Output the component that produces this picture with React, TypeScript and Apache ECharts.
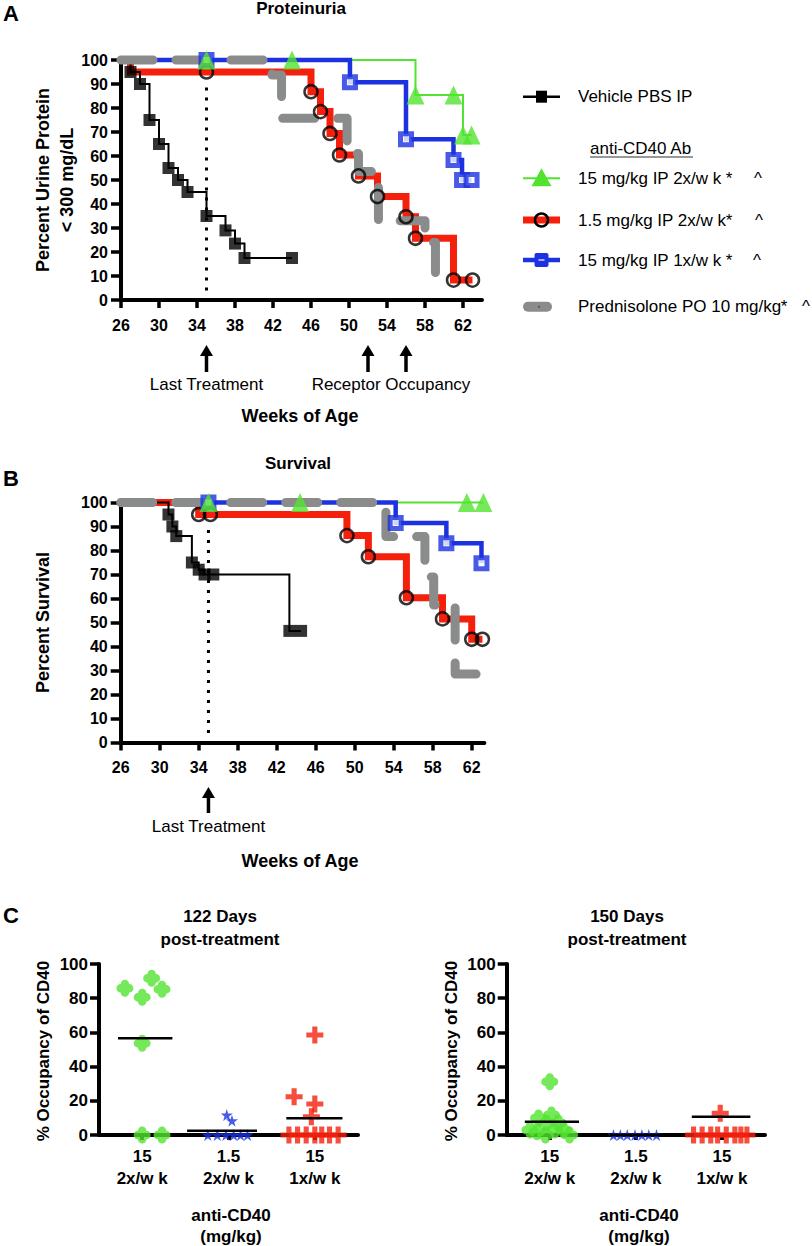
import React, { useEffect, useRef } from 'react';
import * as echarts from 'echarts';

const FONT = '"Liberation Sans", Arial, Helvetica, sans-serif';
const GREEN = '#52e330';
const RED = '#f4200c';
const BLUE = '#1c32e0';
const GRAY = '#8a8c8c';

// ---------------- Panel A : Proteinuria  ([week, percent, symbol shown]) ----------------
const weekTicks = [26, 30, 34, 38, 42, 46, 50, 54, 58, 62];
const protVehicle = [
  [26, 100, 0], [27, 95, 1], [28, 90, 1], [29, 75, 1], [30, 65, 1], [31, 55, 1], [32, 50, 1], [33, 45, 1],
  [35, 35, 1], [37, 29, 1], [38, 23.5, 1], [39, 17.5, 1], [44, 17.5, 1],
];
const protAb15x2 = [[26, 100, 0], [35, 100, 1], [44, 100, 1], [57, 85.4, 1], [61, 85.4, 1], [62, 68.7, 1], [62.9, 68.7, 1]];
const protAb1p5x2 = [
  [26, 100, 0], [27, 95, 0], [35, 95, 1], [46, 86.8, 1], [47, 78.5, 1], [48, 69.4, 1], [49, 60.4, 1],
  [51, 51.7, 1], [53, 43.1, 1], [56, 34.7, 1], [57, 25.7, 1], [61, 8.3, 1], [63, 8.3, 1],
];
const protAb15x1 = [[26, 100, 0], [35, 100, 1], [50.1, 90.7, 1], [56, 67, 1], [61, 58.3, 1], [61.9, 50, 1], [62.9, 50, 1]];
const protPred = [[26, 100], [41.9, 93.7], [42.9, 75.7], [49.8, 61], [51, 53.5], [53.1, 33], [58, 24], [59.1, 11], [60.5, 11]];

// ---------------- Panel B : Survival ----------------
const survVehicle = [
  [26, 100, 0], [30.9, 95, 1], [31.3, 90, 1], [31.7, 86, 1], [33.3, 75, 1], [34, 72, 1], [34.6, 70, 1],
  [35.5, 70, 1], [43.3, 46.5, 1], [44.5, 46.5, 1],
];
const survAb15x2 = [[26, 100, 0], [35, 100, 1], [44.4, 100, 1], [61.5, 100, 1], [63.2, 100, 1]];
const survAb1p5x2 = [
  [26, 100, 0], [34, 95, 1], [35.2, 95, 1], [49.2, 86.2, 1], [51.4, 77.4, 1], [55.3, 60.3, 1],
  [59, 51.5, 1], [62, 43, 1], [63.1, 43, 1],
];
const survAb15x1 = [[26, 100, 0], [35, 100, 1], [54.2, 91.5, 1], [59.4, 83, 1], [63, 74.7, 1]];
const survPred = [[26, 100], [53.2, 85.8], [57.2, 69], [58.1, 57.3], [60.3, 28.5], [63.1, 28.5]];

const lastTreatmentWeek = 35;
const receptorOccupancyWeeks = [52, 56];

// ---------------- Panel C : % occupancy of CD40 ----------------
const doseGroups = ['15\n2x/w k', '1.5\n2x/w k', '15\n1x/w k'];

const occ122High2x = [85.8, 80.5, 91.6, 85.2, 53.6, 0, 0];
const occ122High2xJit = [-0.2, 0, 0.11, 0.23, 0, 0, 0.23];
const occ122Low2x = [11.7, 8.4, 0, 0, 0, 0, 0, 0];
const occ122Low2xJit = [-0.02, 0.04, -0.24, -0.13, -0.03, 0.06, 0.14, 0.22];
const occ122High1x = [58.5, 22.4, 18.1, 10.7, 0, 0, 0, 0, 0, 0, 0];
const occ122High1xJit = [0, -0.24, 0, -0.04, -0.3, -0.2, -0.1, 0, 0.08, 0.17, 0.27];
const occ122Means = [56.6, 2.5, 9.8];
const occ122MeanSpan = [[-0.28, 0.35], [-0.48, 0.33], [-0.33, 0.32]];

const occ150High2x = [31.2, 10, 11.7, 2.9, 1.9, 0, 2.9, 2.9, 0, 6.8, 7];
const occ150High2xJit = [0, -0.13, 0.02, -0.23, -0.15, -0.05, 0.06, 0.16, 0.23, -0.04, 0.1];
const occ150Low2x = [0, 0, 0, 0, 0, 0, 0];
const occ150Low2xJit = [-0.26, -0.18, -0.1, -0.01, 0.07, 0.15, 0.24];
const occ150High1x = [12.7, 0, 0, 0, 0, 0, 0, 0, 0];
const occ150High1xJit = [-0.02, -0.33, -0.23, -0.13, -0.05, 0.05, 0.15, 0.22, 0.29];
const occ150Means = [7.8, 0, 10.7];
const occ150MeanSpan = [[-0.29, 0.34], [-0.3, 0.3], [-0.35, 0.33]];

const STAR = 'path://M50,0 L61,35 L98,35 L68,57 L79,91 L50,70 L21,91 L32,57 L2,35 L39,35 Z';
const PLUS = 'path://M35,0 H65 V35 H100 V65 H65 V100 H35 V65 H0 V35 H35 Z';
const CLOVER =
  'path://M25,25 a25,25 0 1,0 50,0 a25,25 0 1,0 -50,0 Z M25,75 a25,25 0 1,0 50,0 a25,25 0 1,0 -50,0 Z ' +
  'M0,50 a25,25 0 1,0 50,0 a25,25 0 1,0 -50,0 Z M50,50 a25,25 0 1,0 50,0 a25,25 0 1,0 -50,0 Z';

function curve(data: number[][], g: number, color: string, width: number, z: number, dashed = false) {
  return {
    type: 'line', xAxisIndex: g, yAxisIndex: g, step: 'end', data: data.map((d) => [d[0], d[1]]),
    symbol: 'none', showSymbol: false, clip: false, silent: true, z,
    lineStyle: dashed
      ? { color, width, type: [32, 23], cap: 'round', join: 'round' }
      : { color, width, join: 'miter', cap: 'butt' },
  };
}
function marks(data: number[][], g: number, symbol: string, symbolSize: any, itemStyle: any, z: number) {
  return {
    type: 'scatter', xAxisIndex: g, yAxisIndex: g, data: data.filter((d) => d[2] === 1).map((d) => [d[0], d[1]]),
    symbol, symbolSize, itemStyle, z, clip: false, silent: true,
  };
}
function dots(values: number[], jit: number[], cat: number, g: number, symbol: string, size: number, color: string) {
  return {
    type: 'scatter', xAxisIndex: g, yAxisIndex: g, data: values.map((v, i) => [cat + jit[i], v]),
    symbol, symbolSize: size, itemStyle: { color }, z: 4, clip: false, silent: true,
  };
}
function meanLine(mean: number, span: number[], cat: number, g: number) {
  return {
    type: 'line', xAxisIndex: g, yAxisIndex: g, data: [[cat + span[0], mean], [cat + span[1], mean]],
    symbol: 'none', clip: false, silent: true, z: 6, lineStyle: { color: '#000', width: 2.5 },
  };
}
function dotted(g: number, top: number) {
  return {
    type: 'line', xAxisIndex: g, yAxisIndex: g, data: [[lastTreatmentWeek, 4], [lastTreatmentWeek, top]],
    symbol: 'none', clip: false, silent: true, z: 1, lineStyle: { color: '#000', width: 3, type: [3, 7] },
  };
}

const axisLine = { show: true, onZero: false, lineStyle: { color: '#000', width: 4 } };
const lbl = { color: '#000', fontFamily: FONT, fontWeight: 'bold' };

function weekAxis(g: number, max: number) {
  return {
    gridIndex: g, type: 'value', min: 26, max,
    axisLine, splitLine: { show: false },
    axisTick: { show: true, length: 8, lineStyle: { color: '#000', width: 3.5 }, customValues: weekTicks },
    axisLabel: { ...lbl, fontSize: 16, margin: 17, customValues: weekTicks },
  };
}
function pctAxis(g: number) {
  return {
    gridIndex: g, type: 'value', min: 0, max: 100, interval: 10,
    axisLine, splitLine: { show: false },
    axisTick: { show: true, length: 10, lineStyle: { color: '#000', width: 3.5 } },
    axisLabel: { ...lbl, fontSize: 16, margin: 13 },
  };
}
function doseAxis(g: number) {
  return {
    gridIndex: g, type: 'value', min: -0.5, max: 2.5,
    axisLine, splitLine: { show: false },
    axisTick: { show: true, length: 5, lineStyle: { color: '#000', width: 4 }, customValues: [0, 1, 2] },
    axisLabel: {
      ...lbl, fontSize: 17, margin: 10, lineHeight: 22, customValues: [0, 1, 2],
      formatter: (v: number) => doseGroups[Math.round(v)] ?? '',
    },
  };
}
function occAxis(g: number) {
  return {
    gridIndex: g, type: 'value', min: 0, max: 100, interval: 20,
    axisLine, splitLine: { show: false },
    axisTick: { show: true, length: 9, lineStyle: { color: '#000', width: 3.5 } },
    axisLabel: { ...lbl, fontSize: 17, margin: 11 },
  };
}

function kmSeries(g: number, veh: number[][], hi2: number[][], lo2: number[][], hi1: number[][], pred: number[][], dotTop: number) {
  return [
    dotted(g, dotTop),
    curve(hi2, g, GREEN, 2, 2),
    curve(hi1, g, BLUE, 4.5, 3),
    curve(lo2, g, RED, 7, 4),
    curve(veh, g, '#000', 2, 5),
    curve(pred, g, GRAY, 9, 6, true),
    marks(veh, g, 'rect', 12, { color: '#000' }, 7),
    marks(lo2, g, 'circle', 13, { color: 'rgba(0,0,0,0)', borderColor: '#000', borderWidth: 2.5 }, 8),
    marks(hi1, g, 'rect', 11, { color: '#fff', borderColor: BLUE, borderWidth: 5 }, 9),
    marks(hi2, g, 'triangle', [18, 19], { color: GREEN }, 10),
  ];
}

function occSeries(g: number, hi2: number[], hi2j: number[], lo2: number[], lo2j: number[], hi1: number[], hi1j: number[], means: number[], spans: number[][]) {
  return [
    dots(hi2, hi2j, 0, g, CLOVER, 17, GREEN),
    dots(lo2, lo2j, 1, g, STAR, 12, BLUE),
    dots(hi1, hi1j, 2, g, PLUS, 17, RED),
    ...means.map((m, i) => meanLine(m, spans[i], i, g)),
  ];
}

function buildOption() {
  return {
    animation: false,
    backgroundColor: '#fff',
    grid: [
      { left: 121, top: 60, width: 361, height: 240 },
      { left: 120.7, top: 502.5, width: 363.7, height: 240 },
      { left: 99, top: 964, width: 259, height: 171 },
      { left: 506.7, top: 964, width: 258.3, height: 171 },
    ],
    xAxis: [weekAxis(0, 64), weekAxis(1, 63.3), doseAxis(2), doseAxis(3)],
    yAxis: [pctAxis(0), pctAxis(1), occAxis(2), occAxis(3)],
    series: [
      ...kmSeries(0, protVehicle, protAb15x2, protAb1p5x2, protAb15x1, protPred, 89),
      ...kmSeries(1, survVehicle, survAb15x2, survAb1p5x2, survAb15x1, survPred, 89),
      ...occSeries(2, occ122High2x, occ122High2xJit, occ122Low2x, occ122Low2xJit, occ122High1x, occ122High1xJit, occ122Means, occ122MeanSpan),
      ...occSeries(3, occ150High2x, occ150High2xJit, occ150Low2x, occ150Low2xJit, occ150High1x, occ150High1xJit, occ150Means, occ150MeanSpan),
    ],
  };
}

function txt(text: string, x: number, y: number, size: number, bold = true, extra: any = {}) {
  return {
    type: 'text', x, y, silent: true, ...extra,
    style: {
      text, fontSize: size, fontWeight: bold ? 'bold' : 'normal', fontFamily: FONT, fill: '#000',
      align: 'center', verticalAlign: 'middle', ...(extra.style || {}),
    },
  };
}
function arrow(x: number, tip: number, bottom: number) {
  return [
    { type: 'line', silent: true, shape: { x1: x, y1: tip + 8, x2: x, y2: bottom }, style: { stroke: '#000', lineWidth: 3.5 } },
    { type: 'polygon', silent: true, shape: { points: [[x, tip], [x - 6.5, tip + 11], [x + 6.5, tip + 11]] }, style: { fill: '#000' } },
  ];
}
function leftTxt(text: string, x: number, y: number, size = 17) {
  return {
    type: 'text', x, y, silent: true,
    style: { text, fontSize: size, fontFamily: FONT, fill: '#000', align: 'left', verticalAlign: 'middle' },
  };
}

function buildGraphics(chart: any) {
  const xa = (g: number, w: number) => chart.convertToPixel({ xAxisIndex: g }, w);
  const aLT = xa(0, lastTreatmentWeek);
  const aR1 = xa(0, receptorOccupancyWeeks[0]);
  const aR2 = xa(0, receptorOccupancyWeeks[1]);
  const bLT = xa(1, lastTreatmentWeek);
  const L1 = 523, L2 = 560, LC = 541.5, TX = 578;
  const rows = { veh: 96.7, hi2: 178.3, lo2: 220, hi1: 260, pred: 306.7 };
  const rot = { rotation: Math.PI / 2 };
  return [
    // Panel A
    txt('A', 11, 13, 22),
    txt('Proteinuria', 301, 8, 17),
    txt('Percent Urine Protein\n< 300 mg/dL', 55, 180, 18, true, { ...rot, style: { lineHeight: 24 } }),
    ...arrow(aLT, 345, 372),
    ...arrow(aR1, 345, 372),
    ...arrow(aR2, 345, 372),
    txt('Last Treatment', aLT, 384, 17, false),
    txt('Receptor Occupancy', (aR1 + aR2) / 2 + 4, 384, 17, false),
    txt('Weeks of Age', 300, 416, 18),
    // legend
    { type: 'line', shape: { x1: L1, y1: rows.veh, x2: L2, y2: rows.veh }, style: { stroke: '#000', lineWidth: 2.5 } },
    { type: 'rect', shape: { x: LC - 5.5, y: rows.veh - 6, width: 11, height: 12 }, style: { fill: '#000' } },
    leftTxt('Vehicle PBS IP', TX, rows.veh),
    leftTxt('anti-CD40 Ab', 590, 148.3),
    { type: 'line', shape: { x1: 590, y1: 157, x2: 693, y2: 157 }, style: { stroke: '#333', lineWidth: 1.2 } },
    { type: 'line', shape: { x1: L1, y1: rows.hi2, x2: L2, y2: rows.hi2 }, style: { stroke: GREEN, lineWidth: 2 } },
    { type: 'polygon', shape: { points: [[LC, rows.hi2 - 10], [LC - 10, rows.hi2 + 8], [LC + 10, rows.hi2 + 8]] }, style: { fill: GREEN } },
    leftTxt('15 mg/kg IP 2x/w k', TX, rows.hi2),
    { type: 'line', shape: { x1: L1, y1: rows.lo2, x2: L2, y2: rows.lo2 }, style: { stroke: RED, lineWidth: 7 } },
    { type: 'circle', shape: { cx: LC, cy: rows.lo2, r: 6.5 }, style: { fill: 'none', stroke: '#000', lineWidth: 2.5 } },
    leftTxt('1.5 mg/kg IP 2x/w k', TX, rows.lo2),
    { type: 'line', shape: { x1: L1, y1: rows.hi1, x2: L2, y2: rows.hi1 }, style: { stroke: BLUE, lineWidth: 4.5 } },
    { type: 'rect', shape: { x: LC - 7, y: rows.hi1 - 7, width: 14, height: 14, r: 2 }, style: { fill: BLUE } },
    { type: 'line', shape: { x1: LC - 3, y1: rows.hi1, x2: LC + 3, y2: rows.hi1 }, style: { stroke: '#fff', lineWidth: 1.2 } },
    leftTxt('15 mg/kg IP 1x/w k', TX, rows.hi1),
    { type: 'rect', shape: { x: 523, y: rows.pred - 5, width: 29, height: 10, r: 5 }, style: { fill: GRAY } },
    { type: 'circle', shape: { cx: 539, cy: rows.pred, r: 0.9 }, style: { fill: '#444' } },
    leftTxt('Prednisolone PO 10 mg/kg', TX, rows.pred),
    txt('*', 729, rows.hi2, 17, false), txt('^', 758, rows.hi2, 17, false),
    txt('*', 729, rows.lo2, 17, false), txt('^', 759, rows.lo2, 17, false),
    txt('*', 729, rows.hi1, 17, false), txt('^', 757, rows.hi1, 17, false),
    txt('*', 784, rows.pred, 17, false), txt('^', 806, rows.pred, 17, false),
    // Panel B
    txt('B', 11, 478, 22),
    txt('Survival', 298, 463, 17),
    txt('Percent Survival', 43, 622.5, 18, true, rot),
    ...arrow(bLT, 787, 813),
    txt('Last Treatment', bLT, 826, 17, false),
    txt('Weeks of Age', 300, 861, 18),
    // Panel C
    txt('C', 11, 915, 22),
    txt('122 Days\npost-treatment', 220, 928, 17, true, { style: { lineHeight: 22.6 } }),
    txt('150 Days\npost-treatment', 627, 928, 17, true, { style: { lineHeight: 22.6 } }),
    txt('% Occupancy of CD40', 43, 1051, 17, true, rot),
    txt('% Occupancy of CD40', 451, 1051, 17, true, rot),
    txt('anti-CD40\n(mg/kg)', 231, 1226, 17, true, { style: { lineHeight: 21.7 } }),
    txt('anti-CD40\n(mg/kg)', 639, 1226, 17, true, { style: { lineHeight: 21.7 } }),
  ];
}

export default function App() {
  const ref = useRef<HTMLDivElement>(null);
  useEffect(() => {
    document.body.style.margin = '0';
    const chart = echarts.init(ref.current!, undefined, { renderer: 'svg', width: 812, height: 1246 });
    chart.setOption(buildOption() as any);
    chart.setOption({ graphic: buildGraphics(chart) } as any);
    return () => chart.dispose();
  }, []);
  return <div ref={ref} style={{ width: 812, height: 1246, position: 'absolute', left: 0, top: 0 }} />;
}
